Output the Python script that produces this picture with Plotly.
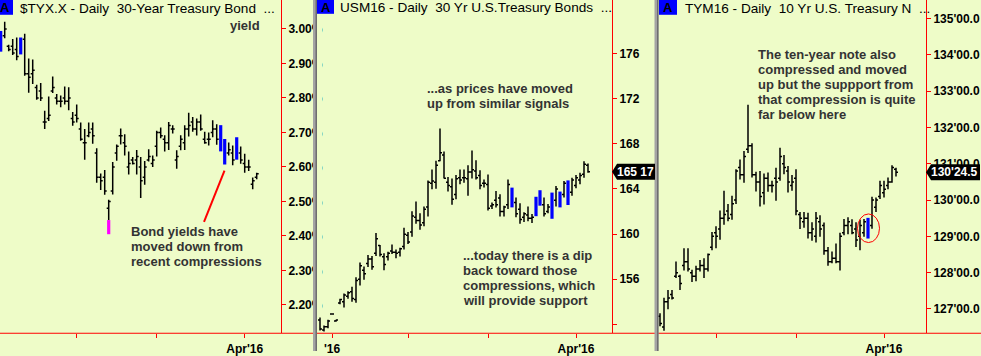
import pandas as pd
import plotly.graph_objects as go

W, H = 981, 356
BG = "#EEFCC8"
FONT = "Liberation Sans, Arial, sans-serif"

# ---------------- trading calendar ----------------
holidays = ["2016-01-01", "2016-01-18", "2016-02-15", "2016-03-25"]
trading_days = [d.strftime("%Y-%m-%d") for d in pd.bdate_range("2015-12-29", "2016-04-06")
                if d.strftime("%Y-%m-%d") not in holidays]

# ---------------- $TYX.X (30-year yield) ----------------
tyx_start = "2016-01-04"
tyx_high = [2.994, 3.021, 2.954, 2.971, 2.975, 2.975, 2.986, 2.914, 2.911, 2.838,
            2.843, 2.763, 2.804, 2.862, 2.811, 2.807, 2.833, 2.831, 2.759, 2.781,
            2.729, 2.710, 2.729, 2.729, 2.654, 2.581, 2.591, 2.505, 2.614, 2.665,
            2.711, 2.695, 2.645, 2.629, 2.649, 2.629, 2.617, 2.651, 2.633, 2.705,
            2.714, 2.692, 2.730, 2.721, 2.648, 2.692, 2.721, 2.757, 2.745, 2.740,
            2.752, 2.702, 2.700, 2.735, 2.724, 2.721, 2.681, 2.671, 2.662, 2.686,
            2.659, 2.638, 2.621, 2.569, 2.583]
tyx_low = [2.934, 2.973, 2.935, 2.924, 2.909, 2.926, 2.864, 2.815, 2.840, 2.795,
           2.791, 2.710, 2.733, 2.814, 2.781, 2.773, 2.781, 2.764, 2.719, 2.729,
           2.676, 2.621, 2.686, 2.667, 2.554, 2.533, 2.519, 2.446, 2.520, 2.618,
           2.665, 2.633, 2.578, 2.607, 2.578, 2.510, 2.548, 2.616, 2.600, 2.630,
           2.683, 2.645, 2.649, 2.697, 2.595, 2.648, 2.649, 2.688, 2.702, 2.691,
           2.705, 2.667, 2.662, 2.686, 2.664, 2.645, 2.607, 2.633, 2.605, 2.621,
           2.609, 2.583, 2.588, 2.535, 2.564]
tyx_open = [2.98, 2.98, 2.95, 2.95, 2.94, 2.94, 2.97, 2.87, 2.87, 2.83,
            2.82, 2.73, 2.74, 2.82, 2.80, 2.79, 2.80, 2.79, 2.74, 2.75,
            2.71, 2.67, 2.69, 2.71, 2.64, 2.57, 2.57, 2.48, 2.53, 2.64,
            2.69, 2.67, 2.60, 2.62, 2.62, 2.60, 2.57, 2.62, 2.61, 2.66,
            2.70, 2.68, 2.67, 2.71, 2.62, 2.66, 2.67, 2.71, 2.73, 2.71,
            2.73, 2.68, 2.68, 2.70, 2.71, 2.70, 2.66, 2.64, 2.64, 2.66,
            2.64, 2.61, 2.60, 2.55, 2.57]
tyx_close = [2.95, 3.00, 2.94, 2.93, 2.92, 2.96, 2.87, 2.86, 2.88, 2.80,
             2.80, 2.73, 2.75, 2.83, 2.79, 2.79, 2.79, 2.80, 2.73, 2.74,
             2.68, 2.67, 2.70, 2.69, 2.57, 2.56, 2.53, 2.50, 2.60, 2.66,
             2.69, 2.66, 2.61, 2.61, 2.63, 2.56, 2.60, 2.63, 2.62, 2.70,
             2.69, 2.67, 2.72, 2.71, 2.63, 2.68, 2.71, 2.72, 2.71, 2.73,
             2.71, 2.67, 2.68, 2.71, 2.68, 2.66, 2.62, 2.65, 2.62, 2.64,
             2.62, 2.60, 2.60, 2.56, 2.58]
tyx_blue_days = ["2016-01-04", "2016-01-11", "2016-03-23", "2016-03-24", "2016-03-30"]
tyx_signal_day = "2016-02-11"
tyx_signal_low, tyx_signal_high = 2.405, 2.446
tyx_yticks = [2.20, 2.30, 2.40, 2.50, 2.60, 2.70, 2.80, 2.90, 3.00]

# ---------------- USM16 (30 yr bond futures) ----------------
usm_start = "2015-12-29"
usm_high = [152.62, 151.90, 152.42, 152.95, 152.42, 154.28, 154.75, 154.95, 155.33, 156.17,
            157.48, 157.13, 158.16, 158.07, 160.10, 159.03, 158.30, 158.45, 159.09, 158.65,
            158.79, 160.57, 160.19, 162.03, 162.90, 161.85, 162.44, 164.76, 165.72, 166.51,
            169.36, 167.33, 165.06, 164.93, 165.23, 165.72, 165.72, 166.10, 167.41, 166.54,
            165.67, 164.85, 165.29, 162.81, 163.83, 163.54, 162.52, 164.85, 164.12, 163.25,
            162.73, 161.94, 162.44, 161.79, 163.31, 163.89, 163.25, 162.67, 163.68, 164.27,
            163.77, 164.71, 164.76, 165.00, 165.23, 165.43, 166.45, 166.25]
usm_low = [151.46, 151.37, 151.66, 152.90, 152.25, 153.79, 153.50, 154.28, 154.02, 153.93,
           155.44, 155.97, 157.08, 156.85, 158.07, 158.01, 156.79, 157.66, 158.25, 157.86,
           158.01, 158.65, 159.12, 159.76, 160.92, 160.39, 160.69, 161.56, 163.97, 164.03,
           166.45, 164.93, 163.77, 162.61, 163.10, 164.41, 164.56, 163.40, 164.93, 164.85,
           163.97, 164.12, 162.09, 162.23, 162.37, 161.56, 161.56, 162.23, 162.37, 161.50,
           160.92, 161.07, 161.15, 160.98, 161.59, 162.52, 161.56, 161.85, 161.36, 162.44,
           162.37, 163.25, 162.58, 163.40, 164.06, 164.41, 165.00, 165.43]
usm_open = [152.40, 151.50, 151.80, 152.92, 152.30, 153.90, 154.00, 154.50, 154.90, 154.20,
            156.00, 156.80, 157.40, 157.80, 158.30, 159.00, 158.00, 158.00, 158.50, 158.40,
            158.40, 158.90, 159.90, 160.20, 161.50, 161.20, 161.00, 162.40, 164.50, 164.60,
            166.50, 167.00, 164.60, 164.20, 163.50, 165.00, 165.00, 164.90, 165.50, 165.60,
            165.20, 164.50, 164.40, 162.50, 163.00, 163.20, 162.00, 162.60, 163.80, 162.80,
            162.20, 161.50, 161.70, 161.40, 163.10, 163.70, 162.60, 162.00, 163.50, 163.00,
            163.60, 163.50, 164.50, 163.70, 164.30, 164.80, 165.30, 166.10]
usm_close = [151.60, 151.80, 152.30, 152.92, 152.40, 154.20, 154.60, 154.80, 154.30, 155.90,
             157.20, 156.50, 157.80, 157.10, 159.60, 158.20, 157.30, 158.30, 158.40, 158.30,
             158.70, 160.00, 159.30, 161.60, 161.20, 160.80, 162.20, 164.60, 164.70, 166.10,
             167.20, 164.95, 164.30, 163.10, 164.90, 164.80, 165.00, 165.50, 165.70, 165.00,
             164.30, 164.50, 162.30, 162.60, 162.60, 162.00, 162.40, 164.40, 162.50, 161.80,
             161.30, 161.80, 161.40, 161.50, 161.80, 162.70, 161.80, 162.40, 161.50, 164.00,
             162.50, 164.50, 162.70, 164.80, 165.00, 165.20, 166.20, 165.53]
usm_blue_days = ["2016-03-09", "2016-03-17", "2016-03-18", "2016-03-23", "2016-03-28", "2016-03-30"]
usm_yticks = [152, 156, 160, 164, 168, 172, 176]

# ---------------- TYM16 (10 yr note futures) ----------------
tym_start = "2016-01-11"
tym_high = [126.88, 127.31, 127.52, 127.52, 128.31, 127.94, 128.67, 128.67, 128.08, 128.19,
            128.35, 128.40, 128.53, 129.12, 129.28, 129.71, 130.26, 129.89, 130.12, 130.85,
            131.12, 131.35, 132.63, 131.57, 130.78, 130.80, 130.73, 130.76, 130.53, 130.89,
            131.44, 131.24, 130.94, 130.69, 130.85, 129.67, 129.67, 129.65, 129.39, 129.67,
            129.58, 129.38, 128.71, 128.58, 128.80, 129.10, 129.48, 129.53, 129.47, 129.39,
            129.46, 129.48, 129.51, 130.09, 130.07, 130.53, 130.53, 130.62, 130.96, 130.89]
tym_low = [126.52, 126.40, 126.99, 127.26, 127.85, 127.52, 128.06, 128.03, 127.74, 127.76,
           128.03, 127.85, 128.03, 128.62, 128.67, 128.91, 129.32, 129.42, 129.46, 129.89,
           130.57, 130.48, 131.30, 130.62, 130.24, 129.82, 129.88, 130.23, 130.21, 129.98,
           130.53, 130.71, 130.21, 130.26, 129.58, 129.20, 129.24, 128.94, 128.88, 128.83,
           128.99, 128.49, 128.19, 128.26, 128.26, 128.06, 129.03, 129.06, 129.06, 128.71,
           128.62, 128.99, 128.94, 129.21, 129.67, 130.03, 130.07, 130.30, 130.48, 130.65]
tym_open = [126.80, 126.50, 127.20, 127.40, 127.90, 127.90, 128.20, 128.30, 128.00, 127.90,
            128.10, 128.20, 128.10, 128.70, 129.10, 129.20, 129.50, 129.70, 129.60, 130.00,
            130.90, 130.70, 131.40, 131.50, 130.70, 130.50, 130.20, 130.60, 130.40, 130.60,
            130.60, 131.00, 130.80, 130.40, 130.60, 129.60, 129.40, 129.50, 129.10, 129.00,
            129.40, 129.30, 128.60, 128.30, 128.40, 128.30, 129.10, 129.30, 129.30, 129.20,
            129.00, 129.10, 129.00, 129.30, 129.80, 130.10, 130.20, 130.40, 130.50, 130.85]
tym_close = [126.60, 127.20, 127.30, 127.30, 128.00, 127.70, 128.30, 128.10, 127.90, 128.10,
             128.20, 128.10, 128.50, 129.00, 129.00, 129.50, 129.60, 129.50, 129.90, 130.80,
             130.70, 131.20, 131.50, 130.70, 130.50, 130.10, 130.60, 130.40, 130.40, 130.50,
             131.20, 130.90, 130.50, 130.50, 129.70, 129.50, 129.50, 129.10, 129.20, 129.50,
             129.20, 128.60, 128.30, 128.40, 128.30, 129.00, 129.30, 129.40, 129.10, 128.90,
             129.30, 129.40, 129.40, 130.00, 130.00, 130.40, 130.30, 130.50, 130.90, 130.766]
tym_blue_days = ["2016-03-28"]
tym_yticks = [127, 128, 129, 130, 131, 132, 133, 134, 135]

month_ticks = ["2016-02-01", "2016-03-01", "2016-04-01"]

# ---------------- helpers ----------------
def fx(p):  # pixel x -> paper
    return p / W

def fy(p):  # pixel y (from top) -> paper
    return 1 - p / H

pos = {d: i for i, d in enumerate(trading_days)}

fig = go.Figure()


def add_panel(start, o, h, l, c, blue_days, xa, ya):
    i0 = trading_days.index(start)
    dates = trading_days[i0:i0 + len(h)]
    black = [k for k, d in enumerate(dates) if d not in blue_days]
    blue = [k for k, d in enumerate(dates) if d in blue_days]
    fig.add_trace(go.Ohlc(
        x=[pos[dates[k]] for k in black],
        open=[o[k] for k in black], high=[h[k] for k in black],
        low=[l[k] for k in black], close=[c[k] for k in black],
        increasing=dict(line=dict(color="black", width=1.5)),
        decreasing=dict(line=dict(color="black", width=1.5)),
        tickwidth=0.5, hoverinfo="skip", xaxis=xa, yaxis=ya))
    if blue:
        fig.add_trace(go.Bar(
            x=[pos[dates[k]] for k in blue], base=[l[k] for k in blue],
            y=[h[k] - l[k] for k in blue], width=0.8,
            marker=dict(color="#0000FF", line=dict(width=0)),
            hoverinfo="skip", xaxis=xa, yaxis=ya))


add_panel(tyx_start, tyx_open, tyx_high, tyx_low, tyx_close, tyx_blue_days, "x", "y")
fig.add_trace(go.Bar(x=[pos[tyx_signal_day]], base=[tyx_signal_low],
                     y=[tyx_signal_high - tyx_signal_low], width=0.8,
                     marker=dict(color="#FF00FF", line=dict(width=0)),
                     hoverinfo="skip", xaxis="x", yaxis="y"))
add_panel(usm_start, usm_open, usm_high, usm_low, usm_close, usm_blue_days, "x2", "y2")
add_panel(tym_start, tym_open, tym_high, tym_low, tym_close, tym_blue_days, "x3", "y3")

tickfont = dict(family=FONT, size=12, color="black", weight="bold")


def xax(dom, rng, vals, texts, anchor):
    return dict(domain=dom, range=rng, anchor=anchor, tickvals=vals, ticktext=texts,
                ticks="outside", ticklen=4, tickcolor="red", tickwidth=1,
                showgrid=False, zeroline=False, showline=False,
                rangeslider=dict(visible=False), tickfont=tickfont, fixedrange=True)


def yax(rng, vals, texts, anchor):
    return dict(domain=[fy(338), 1], range=rng, anchor=anchor, side="right",
                tickvals=vals, ticktext=texts, ticks="outside", ticklen=4,
                tickcolor="red", tickwidth=1, showline=True, linecolor="red",
                linewidth=1, showgrid=False, zeroline=False, tickfont=tickfont,
                fixedrange=True)


mt = [pos[d] for d in month_ticks]
fig.update_layout(
    width=W, height=H, margin=dict(l=0, r=0, t=0, b=0),
    paper_bgcolor=BG, plot_bgcolor=BG, showlegend=False, barmode="overlay",
    xaxis=xax([0, fx(281)], [2.825, 73.075], mt, ["", "", "Apr'16"], "y"),
    xaxis2=xax([fx(317), fx(612)], [-0.75, 73.0], [pos["2016-01-04"]] + mt,
               ["'16", "", "", "Apr'16"], "y2"),
    xaxis3=xax([fx(658), fx(926)], [7.5, 74.5], mt, ["", "", "Apr'16"], "y3"),
    yaxis=yax([2.118, 3.0837], tyx_yticks, [f"{v:.2f}%" for v in tyx_yticks], "x"),
    yaxis2=yax([151.22, 180.74], usm_yticks,
               ["" if v == usm_yticks[0] else str(v) for v in usm_yticks], "x2"),
    yaxis3=yax([126.329, 135.516], tym_yticks, [f"{v}'00.0" for v in tym_yticks], "x3"),
)

# ---------------- shapes ----------------
shapes = []


def rect(x0, y0, x1, y1, fill, **kw):
    shapes.append(dict(type="rect", xref="paper", yref="paper", x0=fx(x0), x1=fx(x1),
                       y0=fy(y1), y1=fy(y0), fillcolor=fill, line=dict(width=0),
                       layer="above", **kw))


# bottom axis line across the whole strip
shapes.append(dict(type="line", xref="paper", yref="paper", x0=0, x1=1, y0=fy(338),
                   y1=fy(338), line=dict(color="red", width=1), layer="above"))
# hide overflow of the first panel's clipped labels
rect(317, 0, 322, 316, BG)
# panel dividers
rect(313, 0, 317, H, "#A4A4A4")
rect(315.5, 0, 317, H, "#6E6E6E")
rect(654.5, 0, 658.5, H, "#A4A4A4")
rect(657, 0, 658.5, H, "#6E6E6E")
# "A" tags
rect(0, 0, 13, 15, "#0000FF")
rect(317, 0, 334, 14, "#0000FF")
rect(659, 0, 677, 15, "#0000FF")
# red pointer in panel 1
shapes.append(dict(type="line", xref="paper", yref="paper", x0=fx(204), y0=fy(225),
                   x1=fx(224.5), y1=fy(173), line=dict(color="red", width=2), layer="above"))
# red circle in panel 3
shapes.append(dict(type="circle", xref="paper", yref="paper", x0=fx(857.5), x1=fx(879.5),
                   y0=fy(246), y1=fy(217), line=dict(color="red", width=1), layer="above"))


def price_box(x0, x1, yref, yval):
    path = (f"M {fx(x0)},0 L {fx(x0 + 5)},8 L {fx(x1)},8 "
            f"L {fx(x1)},-8 L {fx(x0 + 5)},-8 Z")
    shapes.append(dict(type="path", xref="paper", yref=yref, ysizemode="pixel",
                       yanchor=yval, path=path, fillcolor="black",
                       line=dict(width=0), layer="above"))


price_box(612, 655, "y2", usm_close[-1])
price_box(926, 980, "y3", tym_close[-1])
fig.update_layout(shapes=shapes)

# ---------------- text ----------------
ann = []


def text(x, y, s, size=13, bold=True, color="#333333", anchor="left", yref="paper"):
    ann.append(dict(x=fx(x), y=fy(y) if yref == "paper" else y,
                    xref="paper", yref=yref, text=s, showarrow=False,
                    xanchor=anchor, yanchor="middle", borderpad=0, borderwidth=0,
                    font=dict(family=FONT, size=size, color=color,
                              weight="bold" if bold else "normal")))


NB = "\u00a0"
text(19.5, 9, f"$TYX.X - Daily{NB} 30-Year Treasury Bond{NB} ...", size=13.6, bold=False, color="#000000")
text(340, 8, f"USM16 - Daily{NB} 30 Yr U.S.Treasury Bonds{NB} ...", size=13.6, bold=False, color="#000000")
text(684.5, 8.5, f"TYM16 - Daily{NB} 10 Yr U.S. Treasury N{NB} ...", size=13.6, bold=False, color="#000000")
for xc in (4.5, 325.5, 668):
    text(xc, 8, "A", size=13, bold=True, color="black", anchor="center")

text(260, 26, "yield", anchor="right")
for i, s in enumerate(["Bond yields have", "moved down from", "recent compressions"]):
    text(130.5, 235 + 15 * i, s)
for i, s in enumerate(["...as prices have moved", "up from similar signals"]):
    text(426.5, 89.5 + 15 * i, s)
for i, s in enumerate(["...today there is a dip", "back toward those",
                       "compressions, which", "will provide support"]):
    text(462.5, 259.5 + 15 * i, s)
for i, s in enumerate(["The ten-year note also", "compressed and moved",
                       "up but the suppport from", "that compression is quite",
                       "far below here"]):
    text(758, 55 + 15.2 * i, s)


def split32(v):
    whole = int(v)
    return whole, (v - whole) * 32


w, f = split32(usm_close[-1])
text(617, usm_close[-1], f"{w} {round(f)}", size=12, color="white", yref="y2")
w, f = split32(tym_close[-1])
text(930.5, tym_close[-1], f"{w}'{f:04.1f}", size=12, color="white", yref="y3")

fig.update_layout(annotations=ann)
fig.write_html("out.html", config={"displayModeBar": False},
               post_script="document.body.style.margin='0';document.body.style.overflow='hidden';")
